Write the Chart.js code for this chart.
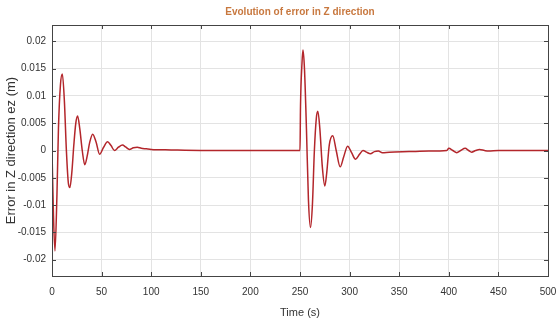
<!DOCTYPE html>
<html>
<head>
<meta charset="utf-8">
<script src="https://cdn.jsdelivr.net/npm/chart.js@4"></script>
<style>
  html, body { margin: 0; padding: 0; background: #fff; }
  #wrap { width: 556px; height: 320px; }
</style>
</head>
<body>
<div id="wrap"><canvas id="errChart"></canvas></div>
<script>
// Values (time in s, error in m)
const timeS = [
  0, 1.5, 3, 5, 6.5, 8.5, 10.4, 12.5, 14.5, 16.5, 18, 20, 22, 24, 25.8, 28, 30.5, 33, 35.5, 38,
  41, 44.5, 48, 52, 56, 59.5, 63, 67, 71, 74.5, 78, 82, 86, 90, 95, 100, 120, 150, 200, 250,
  250.5, 252, 253, 254.5, 256.5, 258.5, 260.6, 262.5, 264.5, 266.5, 268, 270, 272.5, 275, 277,
  279.5, 283, 286.5, 290.5, 294, 298, 302, 306, 310, 313.5, 317, 321, 325, 329, 333, 340, 360,
  380, 398, 400, 404, 408, 412, 416.5, 420, 423, 427, 431, 436, 440, 450, 500
];
const errorZ = [
  0, -0.012, -0.0184, -0.008, 0.004, 0.012, 0.014, 0.009, 0.0, -0.006, -0.0068, -0.004, 0.001, 0.005, 0.0063, 0.004, 0.0, -0.0026, -0.001, 0.0015,
  0.003, 0.0015, -0.0007, 0.0006, 0.0016, 0.0009, 0.0, 0.0006, 0.001, 0.0006, 0.0002, 0.0005, 0.0006, 0.0004, 0.0003, 0.0002, 0.0001, 0.0, 0.0, 0.0,
  0.008, 0.016, 0.0184, 0.015, 0.004, -0.009, -0.0141, -0.01, 0.0, 0.006, 0.0072, 0.004, -0.003, -0.0065, -0.004,
  0.001, 0.0027, 0.0, -0.003, -0.0012, 0.0008, -0.0004, -0.0016, -0.0007, 0.0, -0.0003, -0.0006, -0.0002, -0.0001, -0.0004, -0.0003, -0.0002,
  -0.0001, 0.0, 0.0004, 0.0, -0.0004, 0.0, 0.0004, 0.0, -0.0003, 0.0, 0.0002, 0.0, -0.0001, 0.0, 0.0
];
const xTicks = [0, 50, 100, 150, 200, 250, 300, 350, 400, 450, 500];
const yTicks = [-0.02, -0.015, -0.01, -0.005, 0, 0.005, 0.01, 0.015, 0.02];

const chartTitle = "Evolution of error in Z direction";
const FONT = "'Liberation Sans', Arial, sans-serif";

// Title centred over the plot, plus MATLAB-style box round the axes
const boxPlugin = {
  id: "boxPlugin",
  afterDraw(chart) {
    const { ctx, chartArea: a } = chart;
    ctx.save();
    ctx.strokeStyle = "#444";
    ctx.lineWidth = 1;
    ctx.strokeRect(a.left + 0.5, a.top + 0.5, a.right - a.left, a.bottom - a.top);
    // inward tick marks on all four edges
    const xs = chart.scales.x, ys = chart.scales.y;
    ctx.beginPath();
    xTicks.forEach(v => {
      const px = Math.round(xs.getPixelForValue(v)) + 0.5;
      ctx.moveTo(px, a.top); ctx.lineTo(px, a.top + 4);
      ctx.moveTo(px, a.bottom); ctx.lineTo(px, a.bottom - 4);
    });
    yTicks.forEach(v => {
      const py = Math.round(ys.getPixelForValue(v)) + 0.5;
      ctx.moveTo(a.right, py); ctx.lineTo(a.right - 4, py);
      ctx.moveTo(a.left, py); ctx.lineTo(a.left + 4, py);
    });
    ctx.stroke();

    ctx.fillStyle = "#c8783f";
    ctx.font = "bold 10px " + FONT;
    ctx.textAlign = "center";
    ctx.textBaseline = "middle";
    ctx.fillText(chartTitle, (a.left + a.right) / 2, 12);
    ctx.restore();
  }
};

const ctx = document.getElementById("errChart").getContext("2d");

new Chart(ctx, {
  type: "line",
  data: {
    datasets: [{
      data: timeS.map((t, i) => ({ x: t, y: errorZ[i] })),
      borderColor: "#b3262b",
      borderWidth: 1.5,
      pointRadius: 0,
      cubicInterpolationMode: "monotone",
      fill: false
    }]
  },
  options: {
    responsive: true,
    maintainAspectRatio: false,
    animation: false,
    layout: { padding: { top: 25, right: 8, left: 0, bottom: 0 } },
    plugins: {
      legend: { display: false },
      tooltip: { enabled: false }
    },
    scales: {
      x: {
        type: "linear",
        min: 0,
        max: 500,
        afterBuildTicks: s => { s.ticks = xTicks.map(v => ({ value: v })); },
        afterFit: s => { s.height = 44; s.paddingRight = 0; },
        grid: { color: "#e3e3e3", drawTicks: false },
        border: { color: "#444" },
        ticks: { color: "#333", font: { family: FONT, size: 10 }, padding: 10, maxRotation: 0 },
        title: { display: true, text: "Time (s)", color: "#333", font: { family: FONT, size: 11 }, padding: { top: 0, bottom: 0 } }
      },
      y: {
        min: -0.023,
        max: 0.023,
        afterBuildTicks: s => { s.ticks = yTicks.map(v => ({ value: v })); },
        afterFit: s => { s.width = 52; },
        grid: { color: "#e3e3e3", drawTicks: false },
        border: { color: "#444" },
        ticks: {
          color: "#333",
          font: { family: FONT, size: 10 },
          padding: 6,
          callback: v => String(Number(v.toFixed(3)))
        },
        title: { display: true, text: "Error in Z direction ez (m)", color: "#333", font: { family: FONT, size: 13 }, padding: { bottom: 2 } }
      }
    }
  },
  plugins: [boxPlugin]
});
</script>
</body>
</html>
